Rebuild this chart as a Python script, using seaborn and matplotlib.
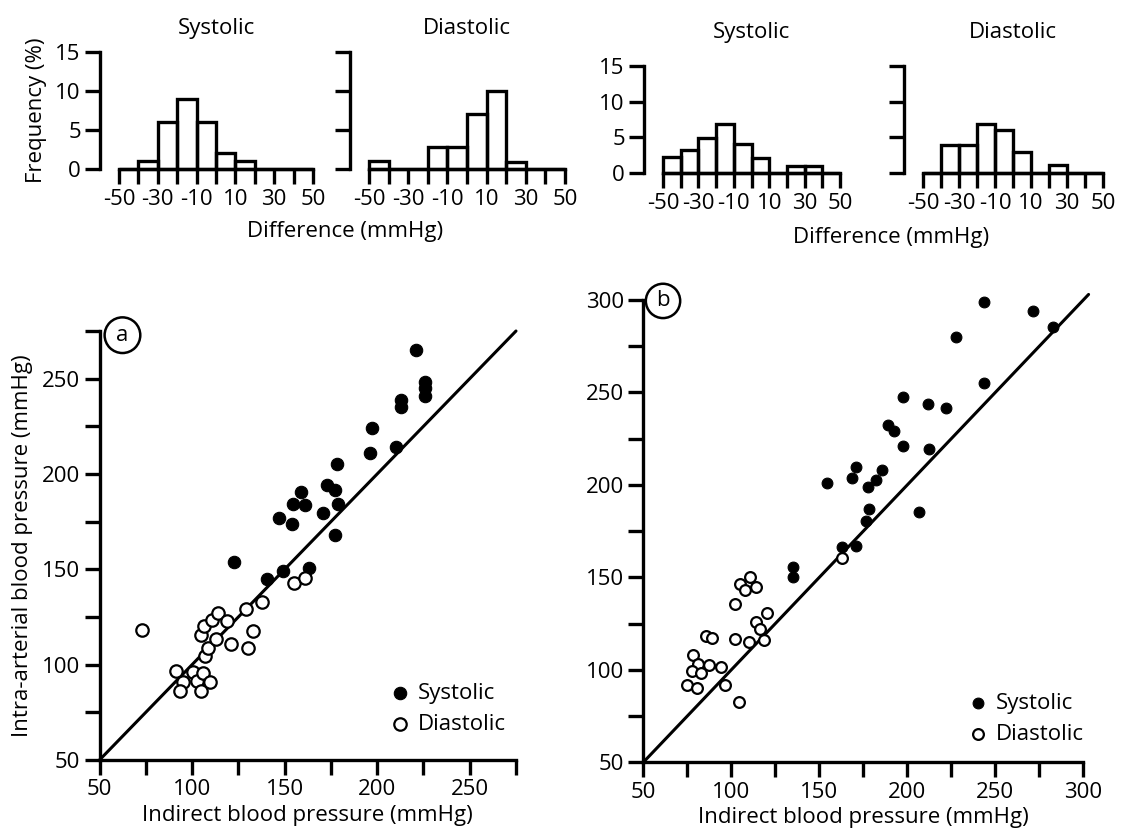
import numpy as np
import pandas as pd
import matplotlib
matplotlib.use("Agg")
import matplotlib.pyplot as plt
import seaborn as sns

# difference classes (mmHg), 10 mmHg wide
bin_edges = [-50, -40, -30, -20, -10, 0, 10, 20, 30, 40, 50]
diff_ticklabels = ["-50", "", "-30", "", "-10", "", "10", "", "30", "", "50"]

# frequency (%) per class
hist_a_sys = [0, 1, 6, 9, 6, 2, 1, 0, 0, 0]
hist_a_dia = [1, 0, 0, 2.8, 2.8, 7, 10, 0.9, 0, 0]
hist_b_sys = [2.3, 3.2, 4.9, 6.9, 4, 2.1, 0, 1, 1, 0]
hist_b_dia = [0, 3.9, 3.9, 6.9, 6, 2.9, 0, 1.1, 0, 0]

# panel a: indirect vs intra-arterial (mmHg)
a_sys_x = [221, 226, 226, 226, 213, 213, 197, 196, 210, 178.5, 173, 177, 179, 159,
           154.5, 161, 147, 154, 171, 177, 122.5, 140.5, 149, 163]
a_sys_y = [265, 248, 245, 241, 239, 235, 224, 211, 214, 205, 194, 191.5, 184.5, 190.5,
           184.5, 184, 177, 174, 179.5, 168, 154, 145, 149, 150.5]
a_dia_x = [73, 91.3, 95, 93.6, 100.3, 102.7, 106, 104.8, 109.5, 107, 108.8, 104.8,
           106.6, 111, 114, 113, 119, 121, 129, 130, 133, 138, 155, 161]
a_dia_y = [118, 96.6, 91, 86.2, 96, 91.4, 95.6, 86.2, 90.7, 104.5, 108.6, 115.8,
           120.3, 123.4, 127.3, 113.5, 123, 111, 129, 109, 117.5, 133, 142.6, 145.4]

# panel b
b_sys_x = [243.6, 271.6, 282.6, 227.7, 243.8, 197.7, 211.8, 221.8, 188.9, 192.6, 197.7,
           212.3, 154.4, 168.4, 170.7, 177.5, 182, 185.8, 178.2, 176.4, 206.6, 163.1,
           170.9, 134.9, 135.2]
b_sys_y = [299, 294, 285.3, 280, 255.3, 247.7, 243.6, 241.5, 232.4, 229.2, 221.2,
           219.4, 201, 204, 209.5, 199, 202.7, 208, 186.8, 180.7, 185.2, 166.3,
           167, 155.8, 150.4]
b_dia_x = [163, 110.6, 105, 107.6, 114, 102, 120.3, 114, 116.3, 118.4, 110, 102, 85.6,
           89, 78.4, 81, 87.3, 94.3, 77.5, 82.6, 74.7, 80.3, 96.4, 104.2]
b_dia_y = [160.3, 150.4, 146.4, 143.2, 144.6, 135.4, 130.6, 126, 122, 116, 115.2, 116.7,
           118.3, 117.2, 108, 103, 102.5, 101.4, 99.5, 98.5, 91.8, 90.4, 91.8, 82.4]

FS = 16

sns.set_theme(style="ticks")
plt.rcParams["font.family"] = ["Open Sans", "DejaVu Sans"]
plt.rcParams.update({
    "font.size": FS,
    "text.color": "black",
    "axes.labelcolor": "black",
    "axes.linewidth": 2.4,
    "xtick.major.width": 2.4,
    "ytick.major.width": 2.4,
    "xtick.major.size": 10.5,
    "ytick.major.size": 10.5,
    "xtick.color": "black",
    "ytick.color": "black",
    "axes.edgecolor": "black",
    "xtick.labelsize": FS,
    "ytick.labelsize": FS,
})

W, H = 1124, 835
fig = plt.figure(figsize=(W / 100, H / 100), dpi=100)


def px_axes(left, right, top, bottom):
    return fig.add_axes([left / W, 1 - bottom / H, (right - left) / W, (bottom - top) / H])


def draw_hist(ax, heights, title, title_pad, show_ylabels):
    centers = [(bin_edges[i] + bin_edges[i + 1]) / 2 for i in range(len(heights))]
    sns.histplot(x=centers, weights=heights, bins=bin_edges, fill=False,
                 color="black", linewidth=2.4, ax=ax)
    for p in ax.patches:
        p.set_clip_on(False)
    ax.set_xlim(-50, 50)
    ax.set_ylim(0, 15)
    ax.set_xticks(bin_edges)
    ax.set_xticklabels(diff_ticklabels)
    ax.set_yticks([0, 5, 10, 15])
    if not show_ylabels:
        ax.set_yticklabels([])
    ax.tick_params(axis="x", pad=4)
    ax.tick_params(axis="y", pad=3)
    ax.set_xlabel("")
    ax.set_ylabel("")
    sns.despine(ax=ax)
    ax.spines["left"].set_position(("outward", 14))
    ax.set_title(title, fontsize=FS, pad=title_pad)


ha1 = px_axes(119, 313, 52, 169)
ha2 = px_axes(369, 565, 52, 169)
hb1 = px_axes(663, 840, 66, 173)
hb2 = px_axes(923, 1103, 66, 173)
draw_hist(ha1, hist_a_sys, "Systolic", 13, True)
draw_hist(ha2, hist_a_dia, "Diastolic", 13, False)
draw_hist(hb1, hist_b_sys, "Systolic", 20, True)
draw_hist(hb2, hist_b_dia, "Diastolic", 20, False)
ha1.set_ylabel("Frequency (%)", fontsize=FS, labelpad=6)
fig.text(345 / W, 1 - 232 / H, "Difference (mmHg)", ha="center", va="center", fontsize=FS)
fig.text(891 / W, 1 - 237 / H, "Difference (mmHg)", ha="center", va="center", fontsize=FS)


def draw_scatter(ax, sx, sy, dx, dy, top, size, legend_anchor):
    ax.plot([50, top], [50, top], color="black", linewidth=2.2, clip_on=False, zorder=1)
    sns.scatterplot(x=sx, y=sy, color="black", edgecolor="black", s=size,
                    linewidth=0.8, label="Systolic", ax=ax, zorder=3, clip_on=False)
    sns.scatterplot(x=dx, y=dy, color="white", edgecolor="black", s=size,
                    linewidth=1.6, label="Diastolic", ax=ax, zorder=3, clip_on=False)
    ax.legend(loc="upper left", bbox_to_anchor=legend_anchor, frameon=False,
              borderpad=0, handlelength=0.8, handletextpad=0.4, labelspacing=0.45,
              fontsize=FS, borderaxespad=0)
    sns.despine(ax=ax)


sa = px_axes(99.5, 516, 331, 760)
draw_scatter(sa, a_sys_x, a_sys_y, a_dia_x, a_dia_y, 275, 80, (0.70, 0.18))
sa.set_xlim(50, 275)
sa.set_ylim(50, 275)
ticks_a = list(range(50, 276, 25))
sa.set_xticks(ticks_a)
sa.set_xticklabels([str(t) if t % 50 == 0 else "" for t in ticks_a])
sa.set_yticks(ticks_a)
sa.set_yticklabels([str(t) if t % 50 == 0 else "" for t in ticks_a])
sa.set_xlabel("Indirect blood pressure (mmHg)", fontsize=FS, labelpad=3)
sa.set_ylabel("Intra-arterial blood pressure (mmHg)", fontsize=FS, labelpad=6)
sa.text(62.4, 272.8, "a", ha="center", va="center", fontsize=FS, clip_on=False,
        bbox=dict(boxstyle="circle,pad=0.33", fc="white", ec="black", lw=1.8))

sb = px_axes(643.3, 1083.3, 300, 762.3)
draw_scatter(sb, b_sys_x, b_sys_y, b_dia_x, b_dia_y, 303, 60, (0.74, 0.15))
sb.set_xlim(50, 300)
sb.set_ylim(50, 300)
ticks_b = list(range(50, 301, 25))
sb.set_xticks(ticks_b)
sb.set_xticklabels([str(t) if t % 50 == 0 else "" for t in ticks_b])
sb.set_yticks(ticks_b)
sb.set_yticklabels([str(t) if t % 50 == 0 else "" for t in ticks_b])
sb.set_xlabel("Indirect blood pressure (mmHg)", fontsize=FS, labelpad=3)
sb.set_ylabel("")
sb.text(61.2, 299.5, "b", ha="center", va="center", fontsize=FS, clip_on=False,
        bbox=dict(boxstyle="circle,pad=0.3", fc="white", ec="black", lw=1.8))

fig.savefig("out.png", dpi=100, facecolor="white")
